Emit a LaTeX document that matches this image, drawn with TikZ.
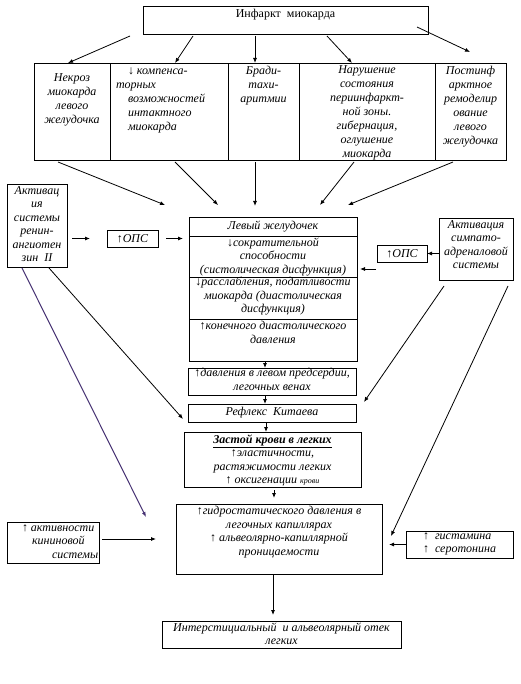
\documentclass[tikz,border=0pt]{standalone}
\usepackage{fontspec}
\setmainfont{Liberation Serif}
\usetikzlibrary{arrows.meta,calc}
\definecolor{lineviolet}{RGB}{70,50,115}
\newcommand{\bt}[4]{\parbox[c][#2pt][t]{#1pt}{\vspace*{#3pt}\centering #4\par}}
\newcommand{\bc}[3]{\parbox[c][#2pt][c]{#1pt}{\centering #3\par}}
\newcommand{\bl}[4]{\parbox[c][#2pt][t]{#1pt}{\vspace*{#3pt}\raggedright #4\par}}
\tikzset{
  bx/.style={draw, line width=0.8pt, inner sep=0pt, outer sep=0pt, anchor=north west,
    font=\fontsize{12}{13.5}\selectfont\itshape},
  rowf/.style={font=\fontsize{12}{14}\selectfont\itshape},
  arr/.style={line width=0.8pt, -{Latex[length=5pt,width=4pt]}},
}
\begin{document}
\begin{tikzpicture}[x=1pt,y=-1pt]
\useasboundingbox[fill=white] (0,0) rectangle (520,684);
% top
\node[bx, font=\fontsize{12}{14}\selectfont\upshape] (top) at (143,6) {\bt{285}{28}{3.5}{Инфаркт\ \ миокарда}};
% row
\node[bx,rowf] (c1) at (34,63) {\bt{76}{97}{11}{Некроз\\миокарда\\левого\\желудочка}};
\node[bx,rowf] (c2) at (110,63) {\bl{118}{97}{5}{\hspace*{18pt}↓ компенса-\\\hspace*{6pt}торных\\\hspace*{18pt}возможностей\\\hspace*{18pt}интактного\\\hspace*{18pt}миокарда}};
\node[bx,rowf] (c3) at (228,63) {\bt{71}{97}{3}{Бради-\\тахи-\\аритмии}};
\node[bx,rowf] (c4) at (299,63) {\bt{136}{97}{2.5}{Нарушение\\состояния\\периинфаркт-\\ной зоны.\\гибернация,\\оглушение\\миокарда}};
\node[bx,rowf] (c5) at (435,63) {\bt{71}{97}{3}{Постинф\\арктное\\ремоделир\\ование\\левого\\желудочка}};
% side boxes
\node[bx] (act) at (7,184) {\bt{60}{83}{2.5}{Активац\\ия\\системы\\ренин-\\ангиотен\\зин\ \ II}};
\node[bx] (opsl) at (107,230) {\bc{51}{17}{↑ОПС}};
\node[bx] (opsr) at (377,245) {\bc{50}{17}{↑ОПС}};
\node[bx] (symp) at (439,218) {\bt{74}{62}{2.5}{Активация\\симпато-\\адреналовой\\системы}};
% left ventricle
\node[bx] (lv1) at (189,217) {\bc{168}{19}{Левый желудочек}};
\node[bx] (lv2) at (189,236) {\bt{168}{41}{1.5}{↓сократительной\\способности\\(систолическая дисфункция)}};
\node[bx] (lv3) at (189,277) {\bt{168}{42}{0}{↓расслабления, податливости\\миокарда (диастолическая\\дисфункция)}};
\node[bx] (lv4) at (189,319) {\bt{168}{42}{2.5}{↑конечного диастолического\\давления}};
% chain
\node[bx] (dav) at (188,368) {\bt{168}{27}{0.5}{↑давления в левом предсердии,\\легочных венах}};
\node[bx] (ref) at (188,404) {\bc{168}{18}{Рефлекс\ \ Китаева}};
\node[bx] (zast) at (184,432) {\bt{177}{55}{2.5}{\underline{\bfseries Застой крови в легких}\\↑эластичности,\\растяжимости легких\\↑ оксигенации {\fontsize{8}{9}\selectfont крови}}};
\node[bx] (hydro) at (176,504) {\bt{206}{70}{2.5}{↑гидростатического давления в\\легочных капиллярах\\↑ альвеолярно-капиллярной\\проницаемости}};
\node[bx] (final) at (162,621) {\bt{239}{27}{1.5}{Интерстициальный\ \ и альвеолярный отек\\легких}};
\node[bx] (kin) at (7,522) {\bl{92}{41}{2.5}{\hspace*{15pt}↑ активности\\\hspace*{25pt}кининовой\\\hspace*{45pt}системы}};
\node[bx] (hist) at (406,531) {\bl{107}{27}{1.5}{\hspace*{17pt}↑\ \ гистамина\\\hspace*{17pt}↑\ \ серотонина}};
% connectors
\coordinate (s1) at (130,36);
\coordinate (s5) at (417,27);
\draw[arr] (s1) -- ($(c1.north)+(-4,0)$);
\draw[arr] ($(top.south)+(-92.5,2)$) -- ($(c2.north)+(6,0)$);
\draw[arr] ($(top.south)+(-30.5,2)$) -- ($(c3.north)+(-8.5,0)$);
\draw[arr] ($(top.south)+(41.5,2)$) -- ($(c4.north)+(-15,0)$);
\draw[arr] (s5) -- ($(c5.north)+(-0.5,-11)$);
\draw[arr] ($(c1.south)+(-14,2)$) -- ($(lv1.north west)+(-24,-12)$);
\draw[arr] ($(c2.south)+(6,2)$) -- ($(lv1.north west)+(29,-12)$);
\draw[arr] ($(c3.south)+(-8.5,2)$) -- ($(lv1.north)+(-18,-11)$);
\draw[arr] ($(c4.south)+(-13,2)$) -- ($(lv1.north)+(47,-12)$);
\draw[arr] ($(c5.south)+(-17.5,2)$) -- ($(lv1.north)+(75,-12)$);
\draw[arr] ($(act.east |- opsl.west)+(5,0)$) -- ($(opsl.west)+(-17,0)$);
\draw[arr] ($(opsl.east)+(8,0)$) -- ($(lv2.west |- opsl.east)+(-6,0)$);
\draw[arr] (symp.west |- opsr.east) -- (opsr.east);
\coordinate (o2) at ($(opsr.south west)+(-1,7)$);
\draw[arr] (o2) -- ($(o2 -| lv2.east)+(3,0)$);
\draw[arr] ($(lv4.south)+(-8,0)$) -- ($(dav.north)+(-7,0)$);
\draw[arr] ($(dav.south)+(-7,0)$) -- ($(ref.north)+(-7,0)$);
\draw[arr] ($(ref.south)+(-6,0)$) -- ($(zast.north)+(-6.5,0)$);
\draw[arr] ($(zast.south)+(1.5,3)$) -- ($(hydro.north)+(-5,-6)$);
\draw[arr] ($(hydro.south)+(-6,0)$) -- ($(final.north)+(-8.5,-6)$);
\draw[arr, lineviolet, line width=1pt] ($(act.south west)+(15,1)$) -- ($(hydro.north west)+(-30,13)$);
\draw[arr] ($(act.south west)+(42,1)$) -- ($(ref.west)+(-5,6)$);
\draw[arr] ($(symp.south west)+(5,6)$) -- ($(ref.north east)+(8,-2)$);
\draw[arr] ($(symp.south east)+(-5,6)$) -- ($(hydro.east)+(9,-3)$);
\draw[arr] ($(kin.east)+(3,-3.5)$) -- ($(hydro.west |- kin.east)+(-20,-3.5)$);
\draw[arr] (hist.west) -- ($(hydro.east |- hist.west)+(7,0)$);
\end{tikzpicture}
\end{document}
